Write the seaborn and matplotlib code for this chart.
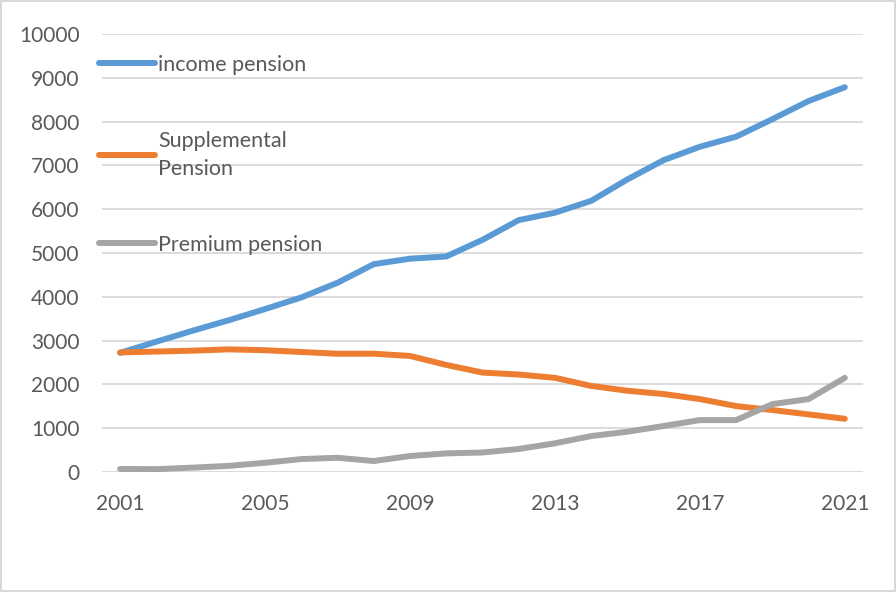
import pandas as pd
import seaborn as sns
import matplotlib.pyplot as plt

# values
years = list(range(2001, 2022))
income_pension = [2720, 2975, 3225, 3465, 3720, 3985, 4320, 4745, 4870, 4920,
                  5300, 5750, 5920, 6190, 6680, 7120, 7425, 7655, 8055, 8470, 8785]
supplemental_pension = [2730, 2750, 2770, 2800, 2780, 2740, 2700, 2700, 2650, 2445,
                        2270, 2225, 2150, 1965, 1855, 1780, 1665, 1505, 1415, 1315, 1215]
premium_pension = [70, 65, 100, 140, 210, 295, 325, 250, 365, 425,
                   445, 525, 655, 820, 920, 1050, 1185, 1185, 1550, 1665, 2150]

series_names = ["income pension", "Supplemental\nPension", "Premium pension"]
colors = ["#5B9BD5", "#ED7D31", "#A5A5A5"]

df = pd.DataFrame({
    "Year": years * 3,
    "Value": income_pension + supplemental_pension + premium_pension,
    "Series": [series_names[0]] * len(years) + [series_names[1]] * len(years)
              + [series_names[2]] * len(years),
})

sns.set_theme(style="white")
plt.rcParams["font.family"] = ["Lato", "DejaVu Sans"]

fig = plt.figure(figsize=(8.96, 5.92), dpi=100)
fig.patch.set_edgecolor("#d9d9d9")
fig.patch.set_linewidth(1.5)
ax = fig.add_axes([0.1138, 0.2027, 0.8493, 0.7399])

sns.lineplot(data=df, x="Year", y="Value", hue="Series", palette=colors,
             linewidth=4.3, ax=ax, legend=True)
for line in ax.get_lines():
    line.set_solid_capstyle("round")
    line.set_solid_joinstyle("round")

ax.set_xlim(2000.5, 2021.5)
ax.set_ylim(0, 10000)
ax.set_yticks(range(0, 10001, 1000))
ax.set_xticks(range(2001, 2022, 4))
ax.yaxis.grid(True, color="#d9d9d9", linewidth=1.3)
ax.xaxis.grid(False)
ax.set_axisbelow(True)
for s in ax.spines.values():
    s.set_visible(False)
ax.tick_params(axis="both", length=0, labelsize=15, labelcolor="#595959")
ax.tick_params(axis="y", pad=16)
ax.tick_params(axis="x", pad=16)
ax.set_xlabel("")
ax.set_ylabel("")

handles, labels = ax.get_legend_handles_labels()
leg = ax.legend(handles, labels, loc="upper left", bbox_to_anchor=(-0.004, 0.953),
                frameon=False, fontsize=15.5, handlelength=2.6, handletextpad=0.15,
                labelspacing=2.6, borderpad=0, borderaxespad=0)
for t in leg.get_texts():
    t.set_color("#595959")
    t.set_linespacing(1.5)
for h in leg.get_lines():
    h.set_linewidth(4.3)
    h.set_solid_capstyle("round")

fig.savefig("out.png", dpi=100)
